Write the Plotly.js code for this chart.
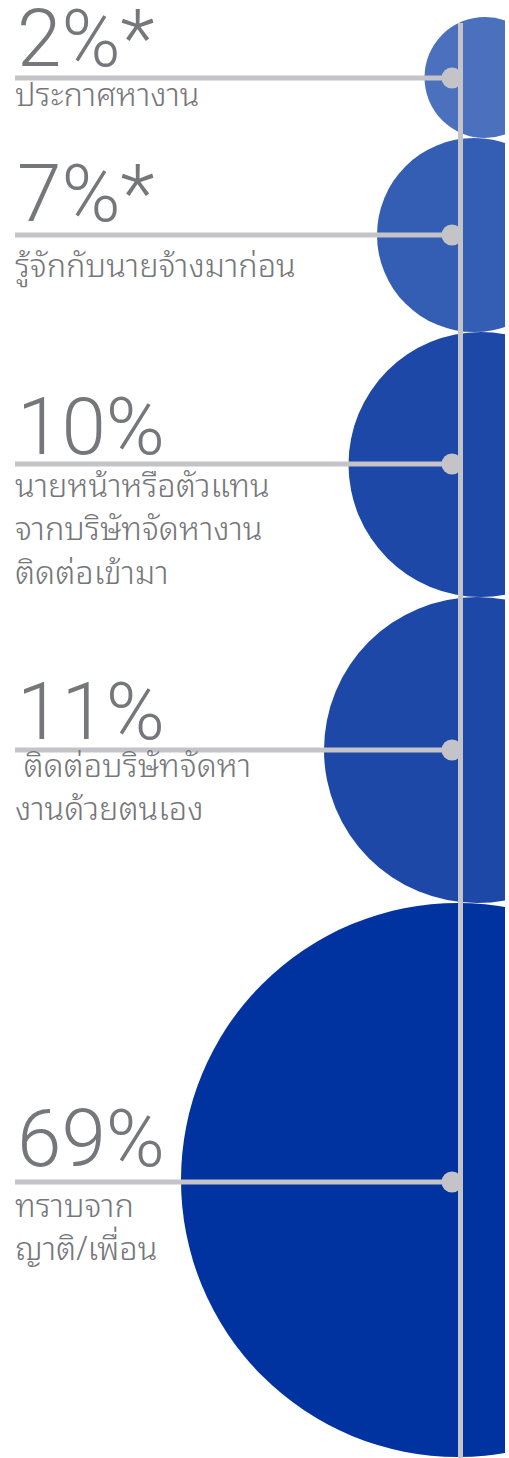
<!DOCTYPE html>
<html>
<head>
<meta charset="utf-8">
<script src="https://cdn.plot.ly/plotly-3.0.1.min.js"></script>
<style>
  html, body { margin: 0; padding: 0; background: #ffffff; }
  #chart { width: 509px; height: 1458px; }
</style>
</head>
<body>
<div id="chart"></div>
<script>
// ---- data ----
const percents = [2, 7, 10, 11, 69];
const percentNotes = ["*", "*", "", "", ""];
const categoryLines = [
  ["ประกาศหางาน"],
  ["รู้จักกับนายจ้างมาก่อน"],
  ["นายหน้าหรือตัวแทน", "จากบริษัทจัดหางาน", "ติดต่อเข้ามา"],
  ["\u00a0ติดต่อบริษัทจัดหา", "งานด้วยตนเอง"],
  ["ทราบจาก", "ญาติ/เพื่อน"]
];

// ---- layout / style (positions in page pixels) ----
const bubbleColors = ["#4b70bd", "#345eb4", "#1d48a8", "#1d48a8", "#0033a0"];
const bubbleCx = [485, 474, 481, 477, 458];
const bubbleCy = [77.5, 235, 464.5, 750, 1180];
const bubbleR = [60.5, 97, 132.5, 153, 277];
const leaderY = [78, 235, 464, 750, 1182];
const pctBaseline = [67, 222, 455, 740, 1167];
const labelBaseline = [[104], [275], [495, 538, 582], [775, 818], [1215, 1258]];
const leaderX0 = 15, dotX = 452, spineX = 460.5, spineTop = 23;
const grey = "#c4c4c8";
const textGrey = "#76777a";
const pctFont = {family: "Roboto, 'Liberation Sans', sans-serif", size: 80, color: textGrey, weight: 300};
const thaiFont = {family: "'Leelawadee UI', Leelawadee, Tahoma, 'Noto Sans Thai Looped', Loma, Garuda, Sarabun, 'Noto Serif Thai', 'Noto Sans Thai', sans-serif", size: 32.5, color: textGrey, weight: 300};

const bubbles = {
  type: "scatter", mode: "markers",
  x: bubbleCx, y: bubbleCy,
  marker: {size: bubbleR.map(r => 2 * r), color: bubbleColors, opacity: 1, line: {width: 0}},
  hoverinfo: "skip", cliponaxis: true, showlegend: false
};

const shapes = [];
leaderY.forEach(y => {
  shapes.push({type: "line", xref: "x", yref: "y", x0: leaderX0, x1: dotX, y0: y, y1: y,
    line: {color: grey, width: 5}, layer: "above"});
  shapes.push({type: "circle", xref: "x", yref: "y", x0: dotX - 10.5, x1: dotX + 10.5, y0: y - 10.5, y1: y + 10.5,
    fillcolor: grey, line: {width: 0}, layer: "above"});
});
shapes.push({type: "line", xref: "x", yref: "y", x0: spineX, x1: spineX, y0: spineTop, y1: 1460,
  line: {color: grey, width: 5}, layer: "above"});

const annotations = [];
percents.forEach((p, i) => {
  annotations.push({xref: "x", yref: "y", x: leaderX0 + 1, y: pctBaseline[i] + 20, xanchor: "left", yanchor: "bottom",
    text: p + "%" + percentNotes[i], showarrow: false, font: pctFont, borderpad: 0});
  categoryLines[i].forEach((line, j) => {
    annotations.push({xref: "x", yref: "y", x: leaderX0 - 1, y: labelBaseline[i][j] + 14, xanchor: "left", yanchor: "bottom",
      text: line, showarrow: false, font: thaiFont, borderpad: 0});
  });
});

const layout = {
  width: 509, height: 1458,
  margin: {l: 0, r: 4, t: 0, b: 0},
  paper_bgcolor: "#ffffff", plot_bgcolor: "#ffffff",
  xaxis: {range: [0, 505], visible: false, fixedrange: true},
  yaxis: {range: [1458, 0], visible: false, fixedrange: true},
  shapes: shapes, annotations: annotations, showlegend: false
};

Plotly.newPlot("chart", [bubbles], layout, {displayModeBar: false, staticPlot: true});
</script>
</body>
</html>
